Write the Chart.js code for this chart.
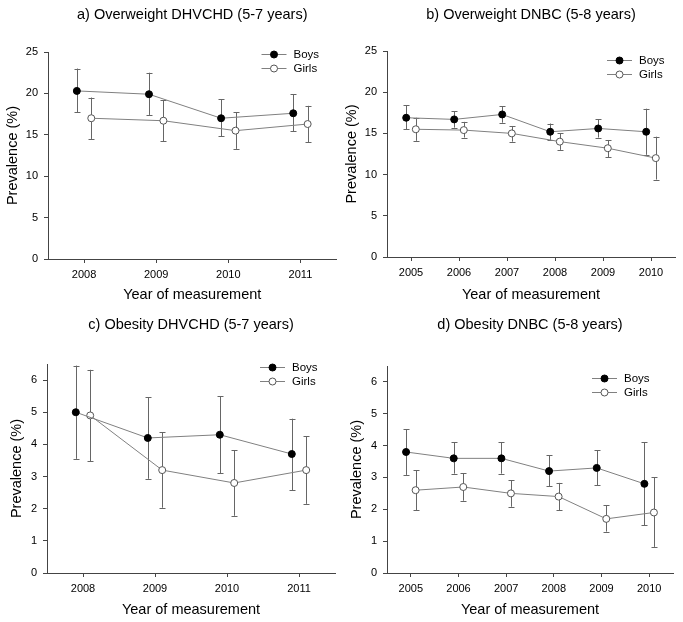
<!DOCTYPE html>
<html>
<head>
<meta charset="utf-8">
<script src="https://cdn.jsdelivr.net/npm/chart.js@4.4.1/dist/chart.umd.min.js"></script>
<style>
  body { margin: 0; background: #fff; width: 683px; height: 622px; position: relative; overflow: hidden; }
  canvas { position: absolute; }
</style>
</head>
<body>
<canvas id="cA" width="341" height="310" style="left:0;top:0"></canvas>
<canvas id="cB" width="342" height="310" style="left:341px;top:0"></canvas>
<canvas id="cC" width="341" height="312" style="left:0;top:310px"></canvas>
<canvas id="cD" width="342" height="312" style="left:341px;top:310px"></canvas>
<script>
// ── Datos ──────────────────────────────────────────────────
const yearsDHVCHD = [2008, 2009, 2010, 2011];
const yearsDNBC   = [2005, 2006, 2007, 2008, 2009, 2010];

const ticksOverweight = [0, 5, 10, 15, 20, 25];
const ticksObesity    = [0, 1, 2, 3, 4, 5, 6];

// a) Overweight DHVCHD
const owDhvBoys    = [20.3, 19.9, 17.0, 17.6];
const owDhvBoysLo  = [17.7, 17.4, 14.8, 15.4];
const owDhvBoysHi  = [23.0, 22.5, 19.3, 19.9];
const owDhvGirls   = [17.0, 16.7, 15.5, 16.3];
const owDhvGirlsLo = [14.5, 14.2, 13.3, 14.1];
const owDhvGirlsHi = [19.5, 19.2, 17.7, 18.5];

// b) Overweight DNBC
const owDnbcBoys    = [16.9, 16.7, 17.3, 15.2, 15.6, 15.2];
const owDnbcBoysLo  = [15.5, 15.7, 16.3, 14.2, 14.5, 12.4];
const owDnbcBoysHi  = [18.4, 17.7, 18.3, 16.2, 16.7, 18.0];
const owDnbcGirls   = [15.5, 15.4, 15.0, 14.0, 13.2, 12.0];
const owDnbcGirlsLo = [14.1, 14.5, 14.0, 13.0, 12.1, 9.4];
const owDnbcGirlsHi = [16.9, 16.4, 15.9, 15.0, 14.2, 14.6];

// c) Obesity DHVCHD
const obDhvBoys    = [5.0, 4.2, 4.3, 3.7];
const obDhvBoysLo  = [3.55, 2.93, 3.1, 2.58];
const obDhvBoysHi  = [6.45, 5.47, 5.5, 4.8];
const obDhvGirls   = [4.9, 3.2, 2.8, 3.2];
const obDhvGirlsLo = [3.47, 2.03, 1.78, 2.15];
const obDhvGirlsHi = [6.32, 4.38, 3.82, 4.25];

// d) Obesity DNBC
const obDnbcBoys    = [3.8, 3.6, 3.6, 3.2, 3.3, 2.8];
const obDnbcBoysLo  = [3.08, 3.12, 3.12, 2.72, 2.75, 1.5];
const obDnbcBoysHi  = [4.52, 4.1, 4.1, 3.7, 3.85, 4.1];
const obDnbcGirls   = [2.6, 2.7, 2.5, 2.4, 1.7, 1.9];
const obDnbcGirlsLo = [1.97, 2.27, 2.08, 1.97, 1.3, 0.82];
const obDnbcGirlsHi = [3.23, 3.13, 2.92, 2.83, 2.12, 3.0];

// ── Estilos ────────────────────────────────────────────────
const FONT = "'Liberation Sans', Arial, sans-serif";
const AXIS = '#444';
const LINE = '#808080';
const ERR  = '#666';
const SHIFT = 0.1; // desplazamiento horizontal de cada grupo

// ── Plugin: barras de error ───────────────────────────────
const errorBars = {
  id: 'errorBars',
  beforeDatasetsDraw(chart) {
    const { ctx, scales: { x, y } } = chart;
    ctx.save();
    ctx.strokeStyle = ERR;
    ctx.lineWidth = 1;
    chart.data.datasets.forEach(ds => {
      ds.data.forEach((p, i) => {
        const px = Math.round(x.getPixelForValue(p.x)) + 0.5;
        const lo = y.getPixelForValue(ds.errLo[i]);
        const hi = y.getPixelForValue(ds.errHi[i]);
        ctx.beginPath();
        ctx.moveTo(px, lo); ctx.lineTo(px, hi);
        ctx.moveTo(px - 3, Math.round(lo) + 0.5); ctx.lineTo(px + 3, Math.round(lo) + 0.5);
        ctx.moveTo(px - 3, Math.round(hi) + 0.5); ctx.lineTo(px + 3, Math.round(hi) + 0.5);
        ctx.stroke();
      });
    });
    ctx.restore();
  }
};

// ── Plugin: leyenda dentro del área ───────────────────────
const insetLegend = {
  id: 'insetLegend',
  afterDraw(chart, args, opts) {
    const { ctx, chartArea } = chart;
    const x0 = chartArea.right + opts.dx;
    let y0 = chartArea.top + opts.dy;
    ctx.save();
    ctx.font = '11.5px ' + FONT;
    ctx.textBaseline = 'middle';
    chart.data.datasets.forEach(ds => {
      ctx.strokeStyle = LINE;
      ctx.lineWidth = 1;
      ctx.beginPath();
      ctx.moveTo(x0, y0 + 0.5); ctx.lineTo(x0 + 25, y0 + 0.5);
      ctx.stroke();
      ctx.beginPath();
      ctx.arc(x0 + 12.5, y0 + 0.5, 3.5, 0, Math.PI * 2);
      ctx.fillStyle = ds.pointBackgroundColor;
      ctx.fill();
      ctx.strokeStyle = ds.pointBorderColor;
      ctx.stroke();
      ctx.fillStyle = '#000';
      ctx.fillText(ds.label, x0 + 32, y0 + 1);
      y0 += 14;
    });
    ctx.restore();
  }
};

function series(label, years, vals, lo, hi, shift, filled) {
  return {
    label,
    data: years.map((yr, i) => ({ x: yr + shift, y: vals[i] })),
    errLo: lo,
    errHi: hi,
    borderColor: LINE,
    borderWidth: 1,
    pointRadius: 3.5,
    pointHoverRadius: 3.5,
    pointBackgroundColor: filled ? '#000' : '#fff',
    pointBorderColor: filled ? '#000' : '#555',
    pointBorderWidth: 1,
    tension: 0,
  };
}

function makePanel(id, p) {
  const canvas = document.getElementById(id);
  const W = canvas.width, H = canvas.height;
  const lh = 14.5 * 1.2;
  new Chart(canvas, {
    type: 'line',
    data: {
      datasets: [
        series('Boys',  p.years, p.boys,  p.boysLo,  p.boysHi,  -SHIFT, true),
        series('Girls', p.years, p.girls, p.girlsLo, p.girlsHi,  SHIFT, false),
      ],
    },
    options: {
      responsive: false,
      animation: false,
      events: [],
      layout: { padding: { left: 0, right: W - p.right, top: 0, bottom: 0 } },
      plugins: {
        legend: { display: false },
        tooltip: { enabled: false },
        title: {
          display: true,
          text: p.title,
          fullSize: false,
          color: '#000',
          font: { family: FONT, size: 14.5, weight: 'normal' },
          padding: { top: p.titleY - lh / 2, bottom: p.top - (p.titleY - lh / 2) - lh },
        },
        insetLegend: p.legend,
      },
      scales: {
        x: {
          type: 'linear',
          min: p.years[0] - 0.5,
          max: p.years[p.years.length - 1] + 0.5,
          afterBuildTicks: s => { s.ticks = p.years.map(v => ({ value: v })); },
          afterFit: s => { s.height = H - p.bottom; },
          grid: { drawOnChartArea: false, drawTicks: true, tickLength: 4, color: AXIS },
          border: { color: AXIS },
          ticks: {
            color: '#000',
            padding: 5,
            maxRotation: 0,
            font: { family: FONT, size: 11 },
            callback: v => String(v),
          },
          title: {
            display: true,
            text: 'Year of measurement',
            color: '#000',
            font: { family: FONT, size: 14.5 },
            padding: { top: 0, bottom: (H - p.xTitleY) - lh / 2 },
          },
        },
        y: {
          min: 0,
          max: p.yMax,
          afterBuildTicks: s => { s.ticks = p.yTicks.map(v => ({ value: v })); },
          afterFit: s => { s.width = p.left; },
          grid: { drawOnChartArea: false, drawTicks: true, tickLength: 4, color: AXIS },
          border: { color: AXIS },
          ticks: {
            color: '#000',
            padding: 6,
            font: { family: FONT, size: 11 },
            callback: v => String(v),
          },
          title: {
            display: true,
            text: 'Prevalence (%)',
            color: '#000',
            font: { family: FONT, size: 14.5 },
            padding: { top: p.yTitleX - lh / 2, bottom: 0 },
          },
        },
      },
    },
    plugins: [errorBars, insetLegend],
  });
}

makePanel('cA', {
  title: 'a) Overweight DHVCHD (5-7 years)',
  years: yearsDHVCHD, yMax: 25, yTicks: ticksOverweight,
  boys: owDhvBoys, boysLo: owDhvBoysLo, boysHi: owDhvBoysHi,
  girls: owDhvGirls, girlsLo: owDhvGirlsLo, girlsHi: owDhvGirlsHi,
  left: 48, right: 338, top: 52, bottom: 259,
  titleY: 15, xTitleY: 295, yTitleX: 13,
  legend: { dx: -75, dy: 2 },
});

makePanel('cB', {
  title: 'b) Overweight DNBC (5-8 years)',
  years: yearsDNBC, yMax: 25, yTicks: ticksOverweight,
  boys: owDnbcBoys, boysLo: owDnbcBoysLo, boysHi: owDnbcBoysHi,
  girls: owDnbcGirls, girlsLo: owDnbcGirlsLo, girlsHi: owDnbcGirlsHi,
  left: 46, right: 334, top: 51, bottom: 257,
  titleY: 15, xTitleY: 295, yTitleX: 11,
  legend: { dx: -68, dy: 9 },
});

makePanel('cC', {
  title: 'c) Obesity DHVCHD (5-7 years)',
  years: yearsDHVCHD, yMax: 6.5, yTicks: ticksObesity,
  boys: obDhvBoys, boysLo: obDhvBoysLo, boysHi: obDhvBoysHi,
  girls: obDhvGirls, girlsLo: obDhvGirlsLo, girlsHi: obDhvGirlsHi,
  left: 47, right: 335, top: 54, bottom: 263,
  titleY: 15, xTitleY: 300, yTitleX: 17,
  legend: { dx: -75, dy: 3 },
});

makePanel('cD', {
  title: 'd) Obesity DNBC (5-8 years)',
  years: yearsDNBC, yMax: 6.5, yTicks: ticksObesity,
  boys: obDnbcBoys, boysLo: obDnbcBoysLo, boysHi: obDnbcBoysHi,
  girls: obDnbcGirls, girlsLo: obDnbcGirlsLo, girlsHi: obDnbcGirlsHi,
  left: 46, right: 332, top: 56, bottom: 263,
  titleY: 15, xTitleY: 300, yTitleX: 16,
  legend: { dx: -81, dy: 12 },
});
</script>
</body>
</html>
